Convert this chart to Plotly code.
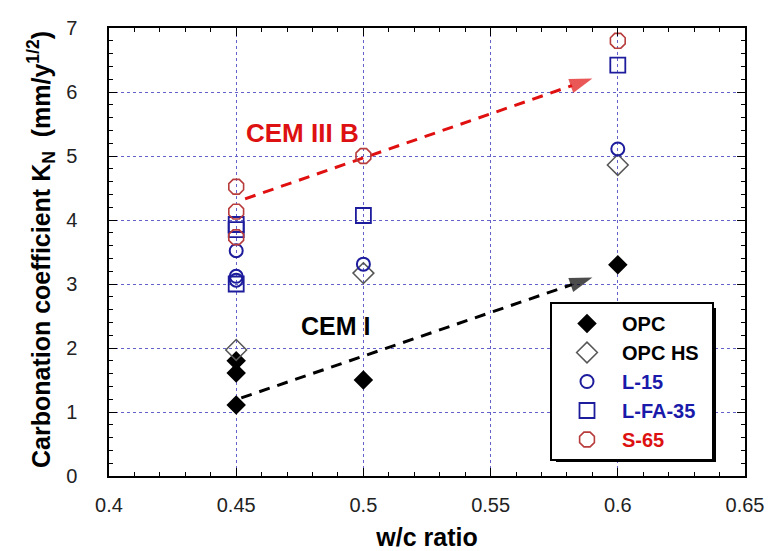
import plotly.graph_objects as go

# ---- data ----
opc_x = [0.45, 0.45, 0.45, 0.5, 0.6]
opc_y = [1.80, 1.61, 1.11, 1.50, 3.30]
opchs_x = [0.45, 0.5, 0.6]
opchs_y = [1.97, 3.17, 4.86]
l15_x = [0.45, 0.45, 0.45, 0.5, 0.6]
l15_y = [3.52, 3.12, 3.06, 3.31, 5.11]
lfa_x = [0.45, 0.45, 0.45, 0.5, 0.6]
lfa_y = [3.93, 3.85, 3.00, 4.07, 6.42]
s65_x = [0.45, 0.45, 0.45, 0.5, 0.6]
s65_y = [4.52, 4.13, 3.73, 5.00, 6.80]

cem1_x = [0.452, 0.590]
cem1_y = [1.22, 3.10]
cem3_x = [0.4535, 0.590]
cem3_y = [4.33, 6.21]

x_ticks = [0.4, 0.45, 0.5, 0.55, 0.6, 0.65]
x_tick_text = ["0.4", "0.45", "0.5", "0.55", "0.6", "0.65"]
y_ticks = [0, 1, 2, 3, 4, 5, 6, 7]

FONT = "Arial, Liberation Sans, sans-serif"
BLUE = "#1c1c9c"
RED_M = "#b83c3c"
RED_T = "#dd1111"
BLUE_T = "#1a1aaa"
GRID = "#6262c8"

W, H = 768, 551
L, R, T, B = 109, 23, 28, 75
PW, PH = W - L - R, H - T - B


def px2paper_x(px):
    return (px - L) / PW


def px2paper_y(py):
    return (H - B - py) / PH


fig = go.Figure()

# arrows (dashed lines with heads)
for xs, ys, col in [(cem1_x, cem1_y, "black"), (cem3_x, cem3_y, "#e01010")]:
    fig.add_trace(go.Scatter(
        x=xs, y=ys, mode="lines+markers", showlegend=False, hoverinfo="skip",
        line=dict(color=col, width=3, dash="11px,8px"),
        marker=dict(symbol="arrow", size=[0, 24], color=col, angleref="previous",
                    line=dict(width=0)),
    ))


def leg(name, color, pad=""):
    return f'<span style="color:{color};font-size:20px"><b>{name}</b>{pad}</span>'


fig.add_trace(go.Scatter(x=opc_x, y=opc_y, mode="markers", name=leg("OPC", "black"),
                         marker=dict(symbol="diamond", size=15, color="black")))
fig.add_trace(go.Scatter(x=opchs_x, y=opchs_y, mode="markers", name=leg("OPC HS", "black"),
                         marker=dict(symbol="diamond-open", size=16, color="#555555",
                                     line=dict(width=1.5))))
fig.add_trace(go.Scatter(x=l15_x, y=l15_y, mode="markers", name=leg("L-15", BLUE_T),
                         marker=dict(symbol="circle-open", size=13, color=BLUE,
                                     line=dict(width=2))))
fig.add_trace(go.Scatter(x=lfa_x, y=lfa_y, mode="markers",
                         name=leg("L-FA-35", BLUE_T, "&nbsp;&nbsp;"),
                         marker=dict(symbol="square-open", size=15, color=BLUE,
                                     line=dict(width=1.8))))
fig.add_trace(go.Scatter(x=s65_x, y=s65_y, mode="markers", name=leg("S-65", RED_T),
                         marker=dict(symbol="octagon-open", size=16, color=RED_M,
                                     line=dict(width=1.6))))

# legend shadow
fig.add_shape(type="rect", xref="paper", yref="paper",
              x0=px2paper_x(556), x1=px2paper_x(716),
              y0=px2paper_y(462), y1=px2paper_y(308),
              fillcolor="black", line=dict(width=0), layer="above")

fig.add_annotation(x=0.476, y=5.36, text="<b>CEM III B</b>", showarrow=False,
                   font=dict(family=FONT, size=26, color=RED_T))
fig.add_annotation(x=0.489, y=2.34, text="<b>CEM I</b>", showarrow=False,
                   font=dict(family=FONT, size=25, color="black"))

# y axis title (rotated text)
fig.add_annotation(xref="paper", yref="paper", x=px2paper_x(41), y=px2paper_y(250),
                   xanchor="center", yanchor="middle", textangle=-90, showarrow=False,
                   text="<b>Carbonation coefficient K<sub>N</sub>  (mm/y<sup>1/2</sup>)</b>",
                   font=dict(family=FONT, size=25, color="black"))

axis_common = dict(
    showline=True, linecolor="black", linewidth=1.5, mirror="allticks",
    ticks="inside", tickcolor="black", tickwidth=1.2, ticklen=8,
    showgrid=True, gridcolor=GRID, gridwidth=1, griddash="dot",
    zeroline=False, automargin=False,
    tickfont=dict(family=FONT, size=20, color="#222222"),
)

fig.update_xaxes(range=[0.4, 0.65], tickvals=x_ticks, ticktext=x_tick_text,
                 minor=dict(ticks="inside", tickvals=[round(0.4 + 0.01 * i, 2) for i in range(26)],
                            ticklen=4, tickcolor="black", showgrid=False),
                 ticklabelstandoff=10,
                 title=dict(text="<b>w/c ratio</b>", font=dict(family=FONT, size=25, color="black"),
                            standoff=23),
                 **axis_common)
fig.update_yaxes(range=[0, 7], tickvals=y_ticks,
                 minor=dict(ticks="inside", dtick=0.2, ticklen=4, tickcolor="black", showgrid=False),
                 ticklabelstandoff=26,
                 **axis_common)

fig.update_layout(
    width=W, height=H,
    margin=dict(l=L, r=R, t=T, b=B),
    paper_bgcolor="white", plot_bgcolor="white",
    font=dict(family=FONT),
    legend=dict(x=px2paper_x(550), y=px2paper_y(302), xanchor="left", yanchor="top",
                bgcolor="white", bordercolor="black", borderwidth=2,
                font=dict(family=FONT, size=20), itemwidth=60, tracegroupgap=0),
    showlegend=True,
)

fig.write_html("out.html")
